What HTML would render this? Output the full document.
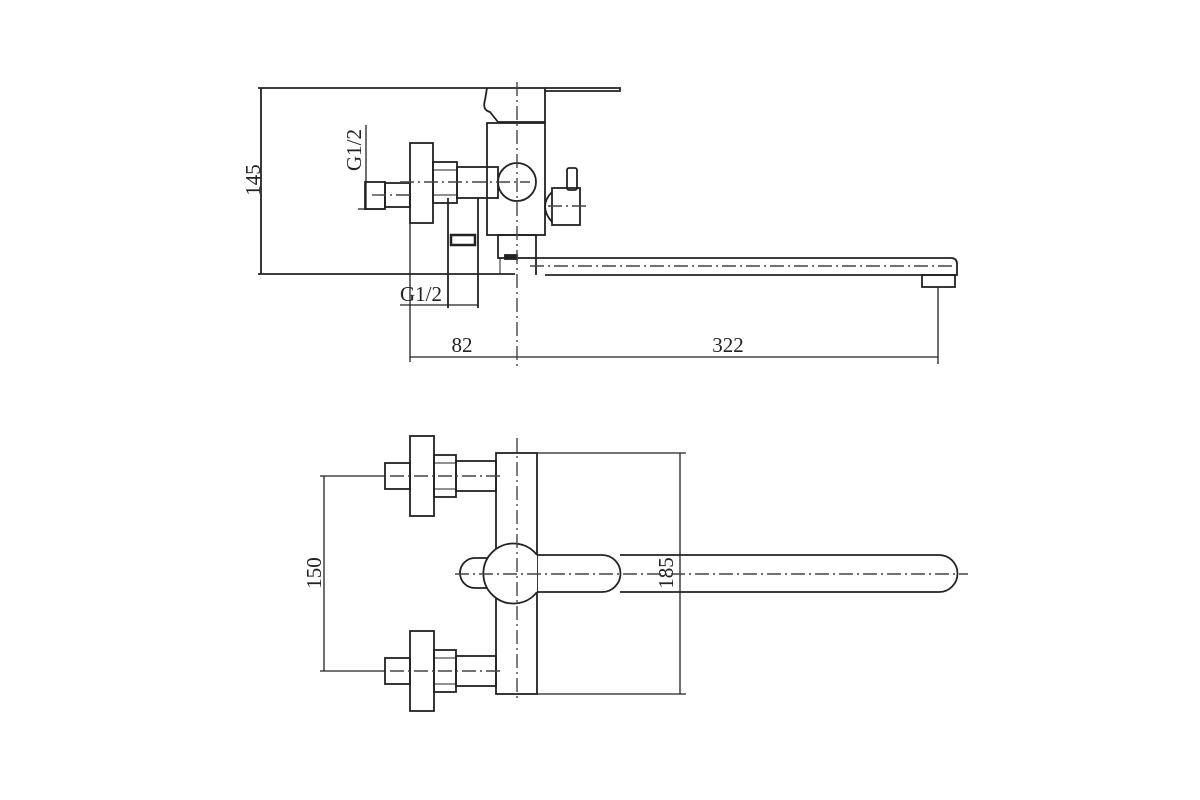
<!DOCTYPE html>
<html><head><meta charset="utf-8"><style>html,body{margin:0;padding:0;background:#fff}svg{display:block}</style></head><body>
<svg width="1200" height="800" viewBox="0 0 1200 800" xmlns="http://www.w3.org/2000/svg">
<g fill="none" stroke="#222" stroke-width="1.8">
<!-- TOP VIEW -->
<line x1="258" y1="88" x2="487" y2="88"/>
<line x1="258" y1="274" x2="515" y2="274"/>
<line x1="261" y1="88" x2="261" y2="274"/>
<path d="M545 88 H620 V91 H545"/>
<path d="M487 88 L485 100 Q482 110 490 112 L498 122 M487 88 H545 V122 H498"/>
<rect x="487" y="123" width="58" height="112"/>
<circle cx="517" cy="182" r="19"/>
<rect x="498" y="235" width="38" height="23"/>
<rect x="505" y="255" width="12" height="4" fill="#222"/>
<rect x="410" y="143" width="23" height="80"/>
<rect x="433" y="162" width="24" height="41"/>
<line x1="433" y1="170" x2="457" y2="170" stroke-width="1"/>
<line x1="433" y1="195" x2="457" y2="195" stroke-width="1"/>
<rect x="457" y="167" width="41" height="31"/>
<rect x="365" y="182" width="20" height="27"/>
<rect x="385" y="183" width="25" height="24"/>
<line x1="366" y1="125" x2="366" y2="210" stroke-width="1.3"/>
<line x1="358" y1="209" x2="385" y2="209" stroke-width="1.3"/>
<line x1="448" y1="198" x2="448" y2="308"/>
<line x1="478" y1="198" x2="478" y2="308"/>
<rect x="451" y="235" width="24" height="10" stroke-width="2.5"/>
<line x1="400" y1="305" x2="478" y2="305" stroke-width="1.3"/>
<path d="M552 192 Q538 206 552 222"/>
<rect x="552" y="188" width="28" height="37"/>
<rect x="567" y="168" width="10" height="22" rx="2"/>
<path d="M536 258 H951 Q957 258 957 264 V275 H918"/>
<line x1="545" y1="275" x2="918" y2="275"/>
<line x1="536" y1="258" x2="536" y2="275"/>
<rect x="922" y="275" width="33" height="12"/>
<line x1="410" y1="223" x2="410" y2="362" stroke-width="1.3"/>
<line x1="938" y1="287" x2="938" y2="364" stroke-width="1.3"/>
<line x1="410" y1="357" x2="938" y2="357" stroke-width="1.3"/>
<line x1="500" y1="258" x2="500" y2="274" stroke-width="1"/>
<!-- BOTTOM VIEW -->
<rect x="496" y="453" width="41" height="241"/>
<line x1="537" y1="453" x2="686" y2="453" stroke-width="1.3"/>
<line x1="537" y1="694" x2="686" y2="694" stroke-width="1.3"/>
<line x1="680" y1="453" x2="680" y2="694" stroke-width="1.3"/>
<g id="inl">
<rect x="410" y="436" width="24" height="80"/>
<rect x="434" y="455" width="22" height="42"/>
<line x1="434" y1="463" x2="456" y2="463" stroke-width="1"/>
<line x1="434" y1="489" x2="456" y2="489" stroke-width="1"/>
<rect x="456" y="461" width="40" height="30"/>
<rect x="385" y="463" width="25" height="26"/>
</g>
<use href="#inl" transform="translate(0,195)"/>
<line x1="320" y1="476" x2="385" y2="476" stroke-width="1.3"/>
<line x1="320" y1="671" x2="385" y2="671" stroke-width="1.3"/>
<line x1="324" y1="476" x2="324" y2="671" stroke-width="1.3"/>
<path d="M490 558 H475 A15 15 0 0 0 475 588 H490"/>
<path d="M537 555 H602 A18.5 18.5 0 0 1 602 592 H537"/>
<path d="M537 555 A30 30 0 1 0 537 592" fill="#fff"/>
<path d="M620 555 H939 A18.5 18.5 0 0 1 939 592 H620"/>
</g>
<g fill="none" stroke="#444" stroke-width="1.4" stroke-dasharray="14,4,2,4">
<line x1="517" y1="82" x2="517" y2="370"/>
<line x1="400" y1="182" x2="530" y2="182"/>
<line x1="372" y1="195" x2="412" y2="195"/>
<line x1="548" y1="206" x2="590" y2="206"/>
<line x1="530" y1="266" x2="952" y2="266"/>
<line x1="517" y1="438" x2="517" y2="702"/>
<line x1="390" y1="476" x2="500" y2="476"/>
<line x1="390" y1="671" x2="500" y2="671"/>
<line x1="455" y1="574" x2="968" y2="574"/>
</g>
<g font-family="Liberation Serif, serif" font-size="21" fill="#222">
<text x="462" y="352" text-anchor="middle">82</text>
<text x="728" y="352" text-anchor="middle">322</text>
<text x="421" y="301" text-anchor="middle">G1/2</text>
<text transform="translate(260,180) rotate(-90)" text-anchor="middle">145</text>
<text transform="translate(361,150) rotate(-90)" text-anchor="middle">G1/2</text>
<text transform="translate(321,573) rotate(-90)" text-anchor="middle">150</text>
<text transform="translate(673,573) rotate(-90)" text-anchor="middle">185</text>
</g>
</svg>
</body></html>
